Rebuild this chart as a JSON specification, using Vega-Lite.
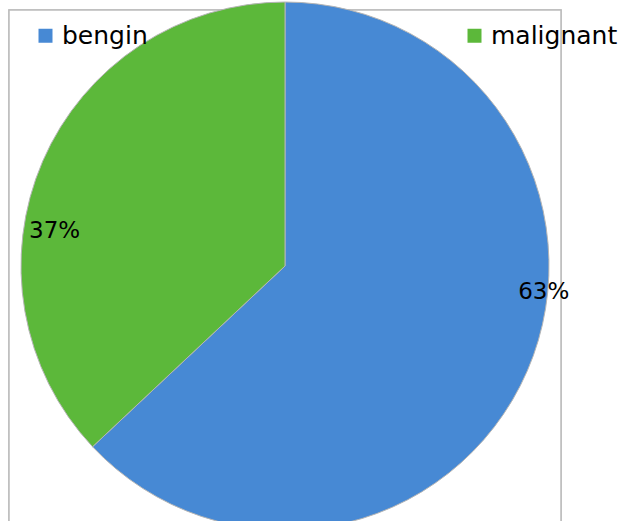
{
  "$schema": "https://vega.github.io/schema/vega-lite/v6.json",
  "width": 552,
  "height": 512,
  "autosize": "none",
  "padding": {"left": 9, "top": 10, "right": 61, "bottom": 0},
  "background": "white",
  "config": {
    "view": {"stroke": null},
    "font": "DejaVu Sans"
  },
  "data": {"values": [
    {"type": "bengin", "value": 63, "label": "63%"},
    {"type": "malignant", "value": 37, "label": "37%"}
  ]},
  "layer": [
    {
      "mark": {"type": "rect", "fill": "white", "stroke": "#bcbcbc", "strokeWidth": 1.5},
      "encoding": {}
    },
    {
      "mark": {"type": "arc", "outerRadius": 264, "stroke": "#b5b5b5", "strokeWidth": 1},
      "encoding": {
        "theta": {"field": "value", "type": "quantitative", "stack": true},
        "order": {"field": "value", "type": "quantitative", "sort": "descending"},
        "color": {
          "field": "type", "type": "nominal",
          "scale": {"domain": ["bengin", "malignant"], "range": ["#4789d4", "#5cb83a"]},
          "legend": {
            "title": null, "orient": "none", "legendX": 24, "legendY": 13,
            "direction": "horizontal", "columns": 2, "columnPadding": 314,
            "symbolType": "square", "symbolSize": 196, "symbolStrokeWidth": 0,
            "labelFontSize": 25, "labelColor": "#000000", "labelFont": "DejaVu Sans",
            "labelOffset": 4, "symbolOpacity": 1
          }
        }
      }
    },
    {
      "mark": {"type": "text", "radius": 260, "thetaOffset": -0.309, "fontSize": 23, "font": "DejaVu Sans", "fill": "#000000"},
      "encoding": {
        "theta": {"field": "value", "type": "quantitative", "stack": true},
        "order": {"field": "value", "type": "quantitative", "sort": "descending"},
        "text": {"condition": {"test": "datum.type === 'bengin'", "field": "label"}, "value": ""}
      }
    },
    {
      "mark": {"type": "text", "radius": 233, "thetaOffset": -0.257, "fontSize": 23, "font": "DejaVu Sans", "fill": "#000000"},
      "encoding": {
        "theta": {"field": "value", "type": "quantitative", "stack": true},
        "order": {"field": "value", "type": "quantitative", "sort": "descending"},
        "text": {"condition": {"test": "datum.type === 'malignant'", "field": "label"}, "value": ""}
      }
    }
  ]
}
